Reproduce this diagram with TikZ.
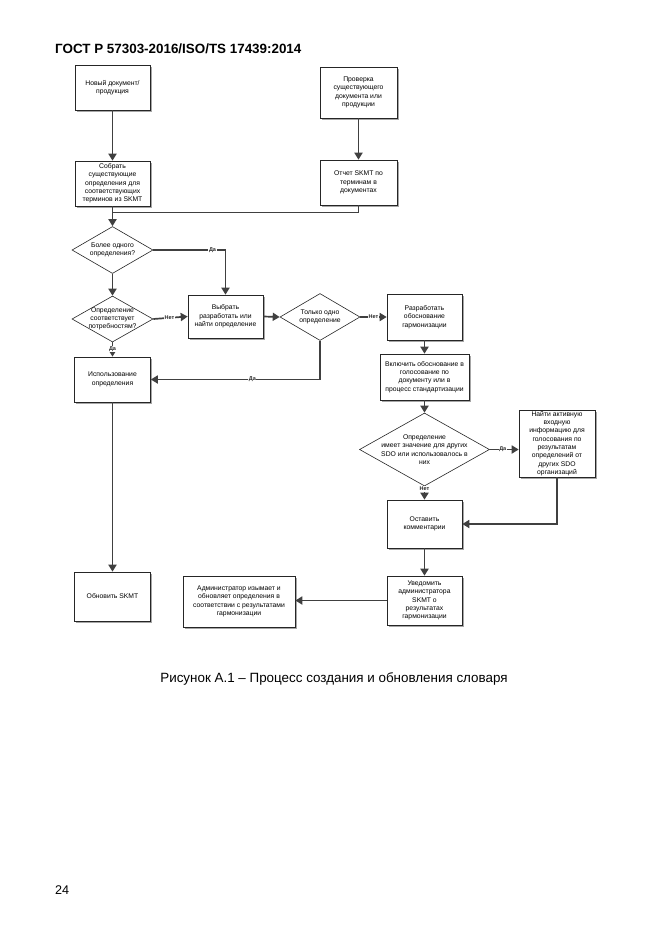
\documentclass[tikz,border=0pt]{standalone}
\usepackage{fontspec}
\setmainfont{Liberation Sans}
\usetikzlibrary{shapes.geometric,arrows.meta,shadows}
\begin{document}
\begin{tikzpicture}[x=1pt,y=-1pt,
  box/.style={draw=black!85, line width=0.6pt, fill=white,
    drop shadow={shadow xshift=1.6pt, shadow yshift=-1.6pt, fill=black!35, opacity=1},
    align=center, inner sep=0pt, font=\fontsize{6.8}{8.3}\selectfont},
  dia/.style={draw=black!85, line width=0.6pt, fill=white, diamond, inner sep=0pt},
  dtxt/.style={align=center, inner sep=0pt, font=\fontsize{6.8}{8.3}\selectfont},
  conn/.style={draw=black!75, line width=1.7pt},
  arr/.style={conn, -{Triangle[length=7pt,width=8pt]}},
  lab/.style={fill=white, inner sep=0.6pt, font=\fontsize{5.5}{6}\selectfont\bfseries, text=black!85}]
\useasboundingbox (0,0) rectangle (662,935);

\node[anchor=base west, inner sep=0pt, font=\fontsize{13.4}{15}\selectfont\bfseries] (title) at (55,53) {ГОСТ Р 57303-2016/ISO/TS 17439:2014};

\node[box, minimum width=75pt, minimum height=45pt] (b1) at (112.5,87.5) {Новый документ/\\продукция};
\node[box, minimum width=77pt, minimum height=51pt] (b2) at (358.5,92.5) {Проверка\\существующего\\документа или\\продукции};
\node[box, minimum width=75pt, minimum height=45pt] (b3) at (112.5,183.5) {Собрать\\существующие\\определения для\\соответствующих\\терминов из SKMT};
\node[box, minimum width=77pt, minimum height=45pt] (b4) at (358.5,182.5) {Отчет SKMT по\\терминам в\\документах};

\node[dia, minimum width=81pt, minimum height=47pt] (d1) at (112.5,250) {};
\node[dtxt] at (d1) {Более одного\\определения?};
\node[dia, minimum width=81pt, minimum height=46pt] (d2) at (112.5,319) {};
\node[dtxt] at (d2) {Определение\\соответствует\\потребностям?};
\node[box, minimum width=75pt, minimum height=43pt] (b5) at (225.5,316.5) {Выбрать\\разработать или\\найти определение};
\node[dia, minimum width=80pt, minimum height=47pt] (d3) at (320,317) {};
\node[dtxt] at (d3) {Только одно\\определение};
\node[box, minimum width=75pt, minimum height=46pt] (b6) at (424.5,317) {Разработать\\обоснование\\гармонизации};

\node[box, minimum width=76pt, minimum height=45pt] (b7) at (112.5,379.5) {Использование\\определения};
\node[box, minimum width=89pt, minimum height=46pt] (b9) at (424.5,377) {Включить обоснование в\\голосование по\\документу или в\\процесс стандартизации};
\node[dia, minimum width=130pt, minimum height=73pt] (d4) at (424.5,449.5) {};
\node[dtxt] at (d4) {Определение\\имеет значение для других\\SDO или использовалось в\\них};
\node[box, minimum width=76pt, minimum height=67pt] (b10) at (557,443.5) {Найти активную\\входную\\информацию для\\голосования по\\результатам\\определений от\\других SDO\\организаций};
\node[box, minimum width=75pt, minimum height=48pt] (b11) at (424.5,524) {Оставить\\комментарии};
\node[box, minimum width=76pt, minimum height=49pt] (b8) at (112.5,596.5) {Обновить SKMT};
\node[box, minimum width=75pt, minimum height=49pt] (b12) at (424.5,600.5) {Уведомить\\администратора\\SKMT о\\результатах\\гармонизации};
\node[box, minimum width=112pt, minimum height=51pt] (b13) at (239,601.5) {Администратор изымает и\\обновляет определения в\\соответствии с результатами\\гармонизации};

\coordinate (j) at (112.5,212.5);

\draw[arr] (b1) -- (b3);
\draw[arr] (b2) -- (b4);
\draw[conn] (b4.south) |- (j);
\draw[arr] (b3) -- (d1);
\draw[arr] (d1) -- (d2);
\draw[arr] (d1.east) -| node[lab, pos=0.41] {Да} (b5.north);
\draw[arr] (d2.east) -- node[lab, pos=0.47] {Нет} (b5.west);
\draw[arr] (b5.east) -- (d3.west);
\draw[arr] (d3.east) -- node[lab, pos=0.5] {Нет} (b6.west);
\draw[arr] (d3.south) |- node[lab, pos=0.7] {Да} (b7.east);
\draw[arr] (d2.south) -- node[lab, pos=0.45] {Да} (b7.north);
\draw[arr] (b7) -- (b8);
\draw[arr] (b6) -- (b9);
\draw[arr] (b9) -- (d4);
\draw[arr] (d4.east) -- node[lab, pos=0.45] {Да} (d4.east -| b10.west);
\draw[arr] (d4.south) -- node[lab, pos=0.2] {Нет} (b11.north);
\draw[arr] (b10.south) |- (b11.east);
\draw[arr] (b11) -- (b12);
\draw[arr] (b12.west) -- (b12.west -| b13.east);

\node[anchor=base, inner sep=0pt, font=\fontsize{13.4}{15}\selectfont] (cap) at (334,682) {Рисунок А.1 – Процесс создания и обновления словаря};
\node[anchor=base west, inner sep=0pt, font=\fontsize{12.6}{15}\selectfont] (pg) at (55,894) {24};
\end{tikzpicture}
\end{document}
